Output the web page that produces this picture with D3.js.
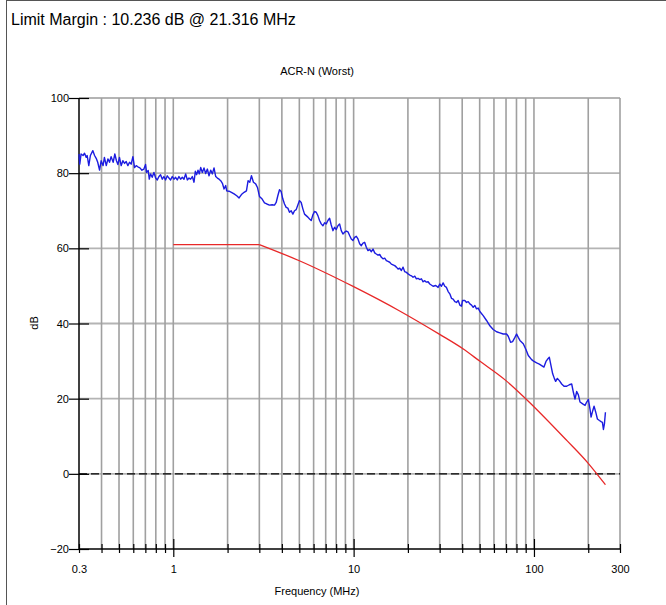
<!DOCTYPE html>
<html>
<head>
<meta charset="utf-8">
<script src="https://cdn.jsdelivr.net/npm/d3@7"></script>
<style>
  body { margin: 0; background: #fff; }
  svg { font-family: Arial, "Liberation Sans", sans-serif; }
</style>
</head>
<body>
<svg id="chart"></svg>
<script>
const headline = "Limit Margin : 10.236 dB @ 21.316 MHz";
const chartTitle = "ACR-N (Worst)";
const xLabel = "Frequency (MHz)";
const yLabel = "dB";

const xTickLabels = [0.3, 1, 10, 100, 300];
const xGridValues = [0.4, 0.5, 0.6, 0.7, 0.8, 0.9, 1, 2, 3, 4, 5, 6, 7, 8, 9, 10,
  20, 30, 40, 50, 60, 70, 80, 90, 100, 200, 300];
const xMajor = [1, 10, 100];
const yTicks = [-20, 0, 20, 40, 60, 80, 100];

// measured ACR-N (MHz, dB)
const measured = [
  [0.30, 85.1], [0.303, 82.4], [0.308, 85.1], [0.316, 84.7], [0.322, 85.3], [0.329, 84.2],
  [0.333, 84.7], [0.340, 82.0], [0.347, 84.7], [0.358, 86.0], [0.366, 84.7], [0.375, 83.8],
  [0.381, 82.9], [0.390, 80.8], [0.398, 83.3], [0.408, 82.0], [0.415, 84.2], [0.425, 82.0],
  [0.434, 83.8], [0.443, 82.9], [0.452, 84.4], [0.464, 82.9], [0.474, 85.1], [0.484, 83.3],
  [0.493, 82.3], [0.503, 84.2], [0.514, 82.0], [0.525, 83.3], [0.537, 82.6], [0.548, 83.1],
  [0.560, 82.0], [0.572, 82.9], [0.584, 82.4], [0.597, 84.4], [0.610, 81.5], [0.623, 82.0],
  [0.636, 81.7], [0.653, 81.4], [0.670, 80.8], [0.687, 81.1], [0.702, 82.3], [0.711, 80.2],
  [0.726, 80.7], [0.736, 78.4], [0.748, 79.8], [0.764, 78.9], [0.781, 80.2], [0.798, 78.7],
  [0.815, 78.2], [0.833, 79.1], [0.850, 79.6], [0.869, 78.4], [0.887, 79.1], [0.906, 78.2],
  [0.926, 79.3], [0.946, 78.7], [0.966, 78.2], [0.987, 79.1], [1.009, 78.4], [1.030, 78.9],
  [1.052, 78.2], [1.075, 79.1], [1.098, 78.4], [1.122, 78.9], [1.146, 78.4], [1.171, 79.8],
  [1.196, 78.2], [1.222, 78.7], [1.248, 78.4], [1.275, 79.1], [1.303, 77.6], [1.325, 80.5],
  [1.348, 79.6], [1.371, 80.8], [1.394, 79.8], [1.419, 81.5], [1.449, 80.2], [1.480, 81.4],
  [1.512, 79.9], [1.545, 81.1], [1.578, 79.3], [1.612, 80.8], [1.647, 79.8], [1.682, 81.4],
  [1.719, 79.1], [1.756, 78.7], [1.794, 78.4], [1.832, 78.0], [1.872, 77.3], [1.912, 75.8],
  [1.953, 76.7], [1.978, 75.3], [2.038, 75.2], [2.100, 74.9], [2.173, 74.5], [2.248, 74.0],
  [2.316, 73.4], [2.387, 74.3], [2.470, 74.9], [2.545, 75.3], [2.599, 78.0], [2.656, 77.6],
  [2.713, 79.3], [2.783, 77.6], [2.867, 77.1], [2.929, 76.2], [3.005, 73.8], [3.110, 73.1],
  [3.204, 72.1], [3.300, 71.8], [3.415, 71.5], [3.533, 71.6], [3.641, 71.5], [3.720, 72.2],
  [3.799, 74.0], [3.881, 75.6], [3.964, 75.1], [4.050, 73.1], [4.137, 71.8], [4.226, 70.9],
  [4.317, 70.7], [4.410, 69.6], [4.505, 70.0], [4.603, 69.1], [4.701, 70.0], [4.803, 70.3],
  [4.906, 71.5], [5.012, 72.7], [5.120, 72.2], [5.230, 70.5], [5.343, 69.1], [5.458, 68.7],
  [5.576, 68.3], [5.696, 67.8], [5.818, 67.4], [5.943, 68.9], [6.071, 69.8], [6.202, 69.6],
  [6.337, 68.7], [6.473, 67.4], [6.612, 66.5], [6.754, 66.0], [6.901, 66.8], [7.049, 66.5],
  [7.201, 67.4], [7.356, 68.0], [7.514, 66.2], [7.676, 64.7], [7.842, 65.6], [8.011, 65.0],
  [8.184, 66.0], [8.360, 66.5], [8.540, 64.7], [8.724, 63.8], [8.913, 64.3], [9.105, 64.6],
  [9.301, 64.4], [9.502, 63.4], [9.705, 62.5], [9.915, 62.1], [10.13, 62.9], [10.35, 63.2],
  [10.57, 62.5], [10.80, 61.2], [11.03, 60.7], [11.27, 61.4], [11.51, 61.6], [11.76, 60.3],
  [12.01, 59.4], [12.27, 59.7], [12.54, 59.1], [12.81, 59.8], [13.09, 58.8], [13.36, 58.5],
  [13.65, 58.2], [13.95, 58.4], [14.25, 57.6], [14.55, 57.2], [14.87, 57.4], [15.19, 56.7],
  [15.51, 56.5], [15.85, 56.3], [16.19, 55.8], [16.54, 55.6], [16.90, 55.4], [17.26, 55.0],
  [17.64, 54.5], [18.02, 54.7], [18.40, 54.1], [18.80, 55.0], [19.20, 53.8], [19.62, 53.6],
  [20.04, 53.2], [20.47, 52.9], [20.91, 52.7], [21.36, 52.3], [21.83, 52.6], [22.29, 51.9],
  [22.78, 52.0], [23.26, 51.7], [23.76, 51.9], [24.28, 51.1], [24.80, 51.4], [25.33, 51.0],
  [25.88, 51.1], [26.44, 50.5], [27.58, 49.9], [28.54, 50.1], [29.41, 49.6], [30.04, 50.5],
  [30.69, 49.9], [31.35, 50.8], [32.03, 49.9], [32.72, 49.6], [33.43, 48.5], [34.15, 47.9],
  [34.88, 46.7], [35.64, 46.5], [36.41, 45.8], [37.19, 45.6], [37.99, 46.1], [38.81, 44.9],
  [39.64, 44.6], [40.16, 46.1], [41.38, 46.1], [42.27, 45.6], [43.19, 45.8], [44.11, 45.2],
  [45.07, 44.9], [46.03, 44.3], [47.02, 44.8], [48.04, 43.9], [49.07, 44.1], [50.12, 43.2],
  [52.30, 42.1], [54.58, 40.8], [56.95, 39.4], [59.43, 38.4], [62.02, 37.8], [64.72, 37.5],
  [67.53, 37.2], [70.48, 37.2], [72.00, 36.6], [74.19, 35.0], [76.11, 35.2], [78.42, 36.3],
  [80.11, 37.2], [81.85, 36.3], [83.60, 35.5], [87.24, 34.6], [90.28, 33.1], [93.02, 31.5],
  [97.05, 30.4], [100.0, 29.9], [103.5, 29.5], [107.1, 29.2], [110.3, 28.8], [113.6, 28.4],
  [116.6, 29.9], [118.6, 30.4], [121.7, 31.0], [124.3, 28.8], [127.0, 26.6], [129.7, 25.4],
  [131.9, 24.6], [134.8, 25.4], [138.3, 24.8], [142.5, 23.9], [146.8, 23.3], [151.9, 23.3],
  [157.1, 23.7], [161.9, 23.9], [165.4, 21.7], [168.9, 19.9], [172.6, 21.9], [176.3, 21.0],
  [180.1, 19.1], [186.3, 18.6], [192.0, 18.2], [196.1, 19.1], [200.4, 19.8], [204.7, 17.1],
  [207.4, 15.1], [211.8, 16.8], [215.4, 18.0], [220.1, 16.4], [224.8, 14.6], [230.7, 14.2],
  [235.6, 13.9], [239.7, 13.7], [242.8, 11.8], [245.9, 13.3], [249.1, 16.4]
];

// limit line (MHz, dB): flat part, then the falling part
const limitFlat = [[1, 61], [3, 61]];
const limitFall = [
  [3, 61], [5, 56.7], [10, 49.8], [17.9, 43.4], [30, 37.1], [40, 33.4],
  [50, 30.0], [70, 24.8], [90, 20.0], [152, 8.9], [200, 2.8], [249, -2.9]
];

const W = 666, H = 605;
const margin = { top: 98, right: 46, bottom: 56, left: 79 };
const width = W - margin.left - margin.right;
const height = H - margin.top - margin.bottom;

const svg = d3.select("#chart").attr("width", W).attr("height", H);

// outer frame
svg.append("line").attr("x1", 6.5).attr("x2", 6.5).attr("y1", 0).attr("y2", H)
  .attr("stroke", "#555").attr("stroke-width", 1);
svg.append("line").attr("x1", 6).attr("x2", W).attr("y1", 0.5).attr("y2", 0.5)
  .attr("stroke", "#555").attr("stroke-width", 1);

svg.append("text").attr("x", 11).attr("y", 25)
  .style("font-size", "16px").attr("fill", "#000").text(headline);

svg.append("text").attr("x", 317).attr("y", 75).attr("text-anchor", "middle")
  .style("font-size", "11px").text(chartTitle);

svg.append("text").attr("x", 317).attr("y", 595).attr("text-anchor", "middle")
  .style("font-size", "11px").text(xLabel);

svg.append("text").attr("transform", "translate(38,323) rotate(-90)")
  .attr("text-anchor", "middle").style("font-size", "11px").text(yLabel);

const g = svg.append("g")
  .attr("transform", "translate(" + margin.left + "," + margin.top + ")");

const x = d3.scaleLog().domain([0.3, 300]).range([0, width]);
const y = d3.scaleLinear().domain([-20, 100]).range([height, 0]);

// horizontal grid
g.append("g").selectAll("line")
  .data(yTicks.filter(d => d > -20))
  .join("line")
  .attr("x1", 0).attr("x2", width)
  .attr("y1", d => y(d)).attr("y2", d => y(d))
  .attr("stroke", "#b4b4b4").attr("stroke-width", 1.8);

// vertical grid
g.append("g").selectAll("line")
  .data(xGridValues)
  .join("line")
  .attr("x1", d => x(d)).attr("x2", d => x(d))
  .attr("y1", 0).attr("y2", height)
  .attr("stroke", "#a0a0a0").attr("stroke-width", 1.6);

// zero line dashed
g.append("line")
  .attr("x1", 0).attr("x2", width)
  .attr("y1", y(0)).attr("y2", y(0))
  .attr("stroke", "#000").attr("stroke-width", 1.2)
  .attr("stroke-dasharray", "8,4");

// y axis
const yAxis = d3.axisLeft(y).tickValues(yTicks).tickSize(10).tickPadding(1);
const yg = g.append("g").call(yAxis);
yg.select(".domain").remove();
yg.selectAll(".tick line").attr("x2", 10).attr("x1", -10).attr("stroke", "#000").attr("stroke-width", 1.2);
yg.selectAll(".tick text").attr("x", -10).style("font-size", "11px").style("font-family", "Arial, 'Liberation Sans', sans-serif");
g.append("line").attr("x1", 0).attr("x2", 0).attr("y1", 0).attr("y2", height)
  .attr("stroke", "#000").attr("stroke-width", 1.5);

// x axis
const xAxis = d3.axisBottom(x).tickValues(xGridValues.concat([0.3])).tickSize(0)
  .tickFormat(d => xTickLabels.includes(d) ? d3.format("~g")(d) : "");
const xg = g.append("g").attr("transform", "translate(0," + height + ")").call(xAxis);
xg.select(".domain").remove();
xg.selectAll(".tick text").attr("y", 16).style("font-size", "11px")
  .style("font-family", "Arial, 'Liberation Sans', sans-serif");
xg.selectAll(".tick line")
  .attr("y1", d => xMajor.includes(d) ? -10 : -5)
  .attr("y2", d => xMajor.includes(d) ? 8 : 4)
  .attr("stroke", "#000").attr("stroke-width", 1.2);
g.append("line").attr("x1", 0).attr("x2", width).attr("y1", height).attr("y2", height)
  .attr("stroke", "#000").attr("stroke-width", 1.5);

const line = d3.line()
  .x(d => x(d[0]))
  .y(d => y(d[1]));

g.append("path").datum(limitFlat)
  .attr("fill", "none").attr("stroke", "#e82828").attr("stroke-width", 1.3)
  .attr("d", line);

g.append("path").datum(limitFall)
  .attr("fill", "none").attr("stroke", "#e82828").attr("stroke-width", 1.3)
  .attr("d", d3.line().x(d => x(d[0])).y(d => y(d[1])).curve(d3.curveMonotoneX));

g.append("path").datum(measured)
  .attr("fill", "none").attr("stroke", "#1c1ce0").attr("stroke-width", 1.4)
  .attr("stroke-linejoin", "round")
  .attr("d", line);
</script>
</body>
</html>
